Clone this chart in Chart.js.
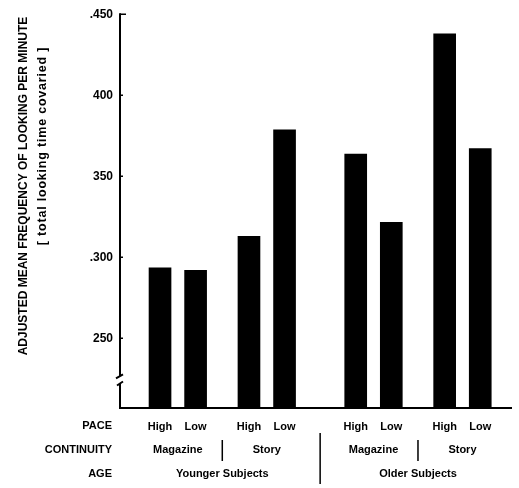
<!DOCTYPE html>
<html>
<head>
<meta charset="utf-8">
<script src="https://cdn.jsdelivr.net/npm/chart.js@4/dist/chart.umd.min.js"></script>
<style>
  html, body { margin: 0; padding: 0; background: #ffffff; }
  #wrap { width: 519px; height: 488px; }
</style>
</head>
<body>
<div id="wrap"><canvas id="c" width="519" height="488"></canvas></div>
<script>
// ---- data ----
const pace       = ['High', 'Low', 'High', 'Low', 'High', 'Low', 'High', 'Low'];
const continuity = ['Magazine', 'Story', 'Magazine', 'Story'];
const age        = ['Younger Subjects', 'Older Subjects'];
const values     = [293.5, 292, 313, 378.6, 363.7, 321.6, 437.9, 367.1];
const yTickValues = [250, 300, 350, 400, 450];
const yTickLabels = ['250', '.300', '350', '400', '.450'];
const yTitle    = 'ADJUSTED MEAN FREQUENCY OF LOOKING PER MINUTE';
const ySubtitle = '[ total looking time covaried ]';
const rowLabels = ['PACE', 'CONTINUITY', 'AGE'];

// ---- layout of the category slots (spacing only) ----
const LEAD = 4, TRAIL = 3;
const GAPS = [4, 6, 4, 8, 4, 6, 4];
const slotOf = [LEAD];
GAPS.forEach(g => slotOf.push(slotOf[slotOf.length - 1] + g));
const nSlots = slotOf[slotOf.length - 1] + 1 + TRAIL;
const labels = new Array(nSlots).fill('');
const data = new Array(nSlots).fill(null);
slotOf.forEach((s, i) => { labels[s] = pace[i]; data[s] = values[i]; });

const FONT = "'Liberation Sans', Arial, sans-serif";

const decor = {
  id: 'decor',
  afterDraw(chart) {
    const ctx = chart.ctx;
    const x = chart.scales.x, y = chart.scales.y;
    const area = chart.chartArea;
    const ax = area.left;
    ctx.save();
    ctx.strokeStyle = '#000';
    ctx.fillStyle = '#000';
    ctx.lineWidth = 2;
    // y axis line with break
    const yTop = y.getPixelForValue(450);
    const b1 = y.getPixelForValue(226.5);
    const b2 = y.getPixelForValue(221.5);
    ctx.beginPath();
    ctx.moveTo(ax, yTop - 1);
    ctx.lineTo(ax, b1);
    ctx.moveTo(ax - 4, b1 + 2);
    ctx.lineTo(ax + 3, b1 - 2);
    ctx.moveTo(ax - 3, b2 + 1);
    ctx.lineTo(ax + 3, b2 - 3);
    ctx.moveTo(ax, b2 - 1);
    ctx.lineTo(ax, area.bottom + 1);
    ctx.stroke();
    // inward tick stubs
    ctx.lineWidth = 1.5;
    ctx.beginPath();
    yTickValues.forEach(v => {
      const py = y.getPixelForValue(v);
      const len = v === 450 ? 6 : 3;
      ctx.moveTo(ax, py);
      ctx.lineTo(ax + len, py);
    });
    ctx.stroke();

    // y titles (rotated)
    ctx.save();
    ctx.translate(24, 186);
    ctx.rotate(-Math.PI / 2);
    ctx.textAlign = 'center';
    ctx.textBaseline = 'middle';
    ctx.font = 'bold 12px ' + FONT;
    ctx.fillText(yTitle, 0, 0);
    ctx.restore();
    ctx.save();
    ctx.translate(43, 146);
    ctx.rotate(-Math.PI / 2);
    ctx.textAlign = 'center';
    ctx.textBaseline = 'middle';
    ctx.font = 'bold 12.5px ' + FONT;
    if ('letterSpacing' in ctx) ctx.letterSpacing = '0.8px';
    ctx.fillText(ySubtitle, 0, 0);
    ctx.restore();

    // row labels
    const rowY = [426, 450, 474];
    ctx.font = 'bold 11px ' + FONT;
    ctx.textAlign = 'right';
    ctx.textBaseline = 'middle';
    rowLabels.forEach((t, i) => ctx.fillText(t, 112, rowY[i]));

    // continuity labels, centred under each pair
    const px = i => x.getPixelForValue(slotOf[i]);
    ctx.textAlign = 'center';
    continuity.forEach((t, i) => {
      const cx = (px(2 * i) + px(2 * i + 1)) / 2;
      ctx.fillText(t, cx, rowY[1]);
    });
    age.forEach((t, i) => {
      const cx = (px(4 * i) + px(4 * i + 3)) / 2;
      ctx.fillText(t, cx, rowY[2]);
    });
    // separators
    ctx.lineWidth = 1.5;
    ctx.beginPath();
    [1, 5].forEach(i => {
      const sx = (px(i) + px(i + 1)) / 2;
      ctx.moveTo(sx, 440); ctx.lineTo(sx, 461);
    });
    const bx = (px(3) + px(4)) / 2;
    ctx.moveTo(bx, 433); ctx.lineTo(bx, 484);
    ctx.stroke();
    ctx.restore();
  }
};

new Chart(document.getElementById('c'), {
  type: 'bar',
  data: {
    labels: labels,
    datasets: [{
      data: data,
      backgroundColor: '#000',
      borderWidth: 0,
      barThickness: 22,
      skipNull: true
    }]
  },
  options: {
    responsive: false,
    animation: false,
    devicePixelRatio: 1,
    layout: { padding: { top: 13, right: 6, left: 0, bottom: 0 } },
    plugins: { legend: { display: false }, tooltip: { enabled: false } },
    scales: {
      x: {
        type: 'category',
        grid: { display: false, drawTicks: false },
        border: { display: true, color: '#000', width: 2 },
        ticks: {
          autoSkip: false, maxRotation: 0, minRotation: 0,
          color: '#000', padding: 12,
          font: { family: FONT, size: 11, weight: 'bold' }
        },
        afterFit(scale) { scale.height = 80; }
      },
      y: {
        min: 207, max: 450,
        grid: { display: false, drawTicks: false },
        border: { display: false },
        afterBuildTicks(axis) { axis.ticks = yTickValues.map(v => ({ value: v })); },
        ticks: {
          color: '#000', padding: 7,
          font: { family: FONT, size: 12, weight: 'bold' },
          callback: v => yTickLabels[yTickValues.indexOf(v)]
        },
        afterFit(scale) { scale.width = 120; }
      }
    }
  },
  plugins: [decor]
});
</script>
</body>
</html>
